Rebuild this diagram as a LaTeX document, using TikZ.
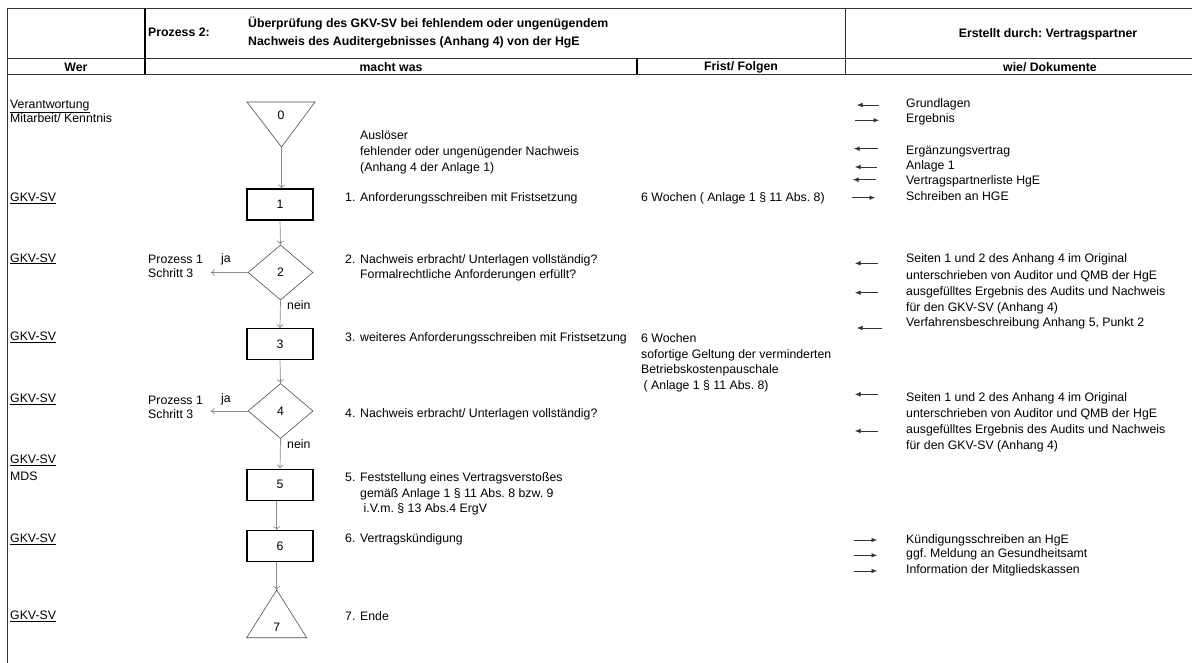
\documentclass[tikz,border=0pt]{standalone}
\usepackage{fontspec}
\setmainfont{Liberation Sans}
\usetikzlibrary{shapes.geometric,arrows.meta}
\frenchspacing

\begin{document}
\begin{tikzpicture}[x=1pt,y=-1pt,
        every node/.style={font=\fontsize{12.3pt}{15.6pt}\selectfont, inner sep=0pt},
        txt/.style={anchor=mid west},
        blk/.style={anchor=base west, align=left},
        hdr/.style={font=\fontsize{12.3pt}{18pt}\selectfont\bfseries},
        tabline/.style={draw=black!80, line width=0.8pt},
        tabbold/.style={draw=black, line width=2pt},
        shapeline/.style={draw=black!70, line width=0.6pt},
        stepbox/.style={draw, line width=1.1pt, minimum width=66pt, minimum height=31pt},
        decision/.style={diamond, draw=black!70, line width=0.6pt, minimum width=65pt, minimum height=55pt},
        flow/.style={-{To[length=4pt,width=7pt]}, draw=black!45, line width=0.7pt},
        doc/.style={-{Latex[length=5.5pt,width=4.5pt]}, draw=black!80, line width=0.5pt}]
        \useasboundingbox (0,0) rectangle (1192,663);
        \draw[tabline] (7,8) -- (1192,8);
        \draw[tabline] (7,58) -- (1192,58);
        \draw[tabline] (7,74) -- (1192,74);
        \draw[tabline] (7,8) -- (7,663);
        \draw[tabbold] (145,8) -- (145,74);
        \draw[tabbold] (637,58) -- (637,74);
        \draw[tabline] (845,8) -- (845,74);
        \node[hdr, anchor=mid west] (proz) at (148,34) {Prozess 2:};
        \node[hdr, blk] (titel) at (248,45.4) {Überprüfung des GKV-SV bei fehlendem oder ungenügendem\\Nachweis des Auditergebnisses (Anhang 4) von der HgE};
        \node[hdr] (erst) at (1048,34) {Erstellt durch: Vertragspartner};
        \node[hdr] (hwer) at (76,67) {Wer};
        \node[hdr] (hwas) at (391,67) {macht was};
        \node[hdr] (hfrist) at (741,67) {Frist/ Folgen};
        \node[hdr] (hwie) at (1050,67) {wie/ Dokumente};

        \node[txt] (wer0) at (10,106) {\underline{Verantwortung}};
        \node[txt] (wer0b) at (10,120.3) {Mitarbeit/ Kenntnis};
        \node[txt] (wer1) at (10,198.7) {\underline{GKV-SV}};
        \node[txt] (wer2) at (10,259.5) {\underline{GKV-SV}};
        \node[txt] (wer3) at (10,338.3) {\underline{GKV-SV}};
        \node[txt] (wer4) at (10,400) {\underline{GKV-SV}};
        \node[txt] (wer5) at (10,461) {\underline{GKV-SV}};
        \node[txt] (wer5b) at (10,478.3) {MDS};
        \node[txt] (wer6) at (10,540.3) {\underline{GKV-SV}};
        \node[txt] (wer7) at (10,617) {\underline{GKV-SV}};

        \draw[shapeline] (247,102) -- (315,102) -- (281.5,147) coordinate (t0) -- cycle;
        \node (l0) at (281,115) {0};
        \node[stepbox] (b1) at (280,204.5) {1};
        \node[decision] (d2) at (280.5,272.5) {2};
        \node[stepbox] (b3) at (280,344.3) {3};
        \node[decision] (d4) at (280.5,411) {4};
        \node[stepbox] (b5) at (280,484.7) {5};
        \node[stepbox] (b6) at (280,546.2) {6};
        \draw[shapeline] (276.7,590) coordinate (t7) -- (306.7,637.7) -- (246.7,637.7) -- cycle;
        \node (l7) at (276.7,627) {7};
        \draw[flow] (t0) -- (t0 |- b1.north);
        \draw[flow] (b1.south) -- (d2.north);
        \draw[flow] (d2.south) -- (b3.north);
        \draw[flow] (b3.south) -- (d4.north);
        \draw[flow] (d4.south) -- (b5.north);
        \draw[flow] (b5.south -| t7) -- (b6.north -| t7);
        \draw[flow] (b6.south -| t7) -- (t7);
        \draw[flow] (d2.west) -- ++(-37,0) coordinate (p2);
        \draw[flow] (d4.west) -- ++(-37,0) coordinate (p4);
        \node[blk] (proz2) at (148,277.4) {Prozess 1\\[-1.5pt]Schritt 3};
        \node[blk] (proz4) at (148,418.4) {Prozess 1\\[-1.5pt]Schritt 3};
        \node[txt] (ja2) at (221,260) {ja};
        \node[txt] (ja4) at (221,400) {ja};
        \node[txt] (nein2) at (287,307) {nein};
        \node[txt] (nein4) at (287,446) {nein};

        \node[blk] (ausl) at (360,171.1) {Auslöser\\fehlender oder ungenügender Nachweis\\(Anhang 4 der Anlage 1)};
        \node[txt] (m1) at (345,198.5) {\makebox[15pt][l]{1.}Anforderungsschreiben mit Fristsetzung};
        \node[txt] (f1) at (641,198.5) {6 Wochen ( Anlage 1 § 11 Abs. 8)};
        \node[blk] (m2) at (345,278.7) {\makebox[15pt][l]{2.}Nachweis erbracht/ Unterlagen vollständig?\\\hspace*{15pt}Formalrechtliche Anforderungen erfüllt?};
        \node[txt] (m3) at (345,338.5) {\makebox[15pt][l]{3.}weiteres Anforderungsschreiben mit Fristsetzung};
        \node[blk] (f3) at (641,389.4) {6 Wochen\\sofortige Geltung der verminderten\\Betriebskostenpauschale\\\hspace*{2.5pt}( Anlage 1 § 11 Abs. 8)};
        \node[txt] (m4) at (345,415.3) {\makebox[15pt][l]{4.}Nachweis erbracht/ Unterlagen vollständig?};
        \node[blk] (m5) at (345,512.7) {\makebox[15pt][l]{5.}Feststellung eines Vertragsverstoßes\\\hspace*{15pt}gemäß Anlage 1 § 11 Abs. 8 bzw. 9\\\hspace*{18.5pt}i.V.m. § 13 Abs.4 ErgV};
        \node[txt] (m6) at (345,540.3) {\makebox[15pt][l]{6.}Vertragskündigung};
        \node[txt] (m7) at (345,617.7) {\makebox[15pt][l]{7.}Ende};

        \node[txt] (r1) at (906,105) {Grundlagen};
        \node[txt] (r2) at (906,120.3) {Ergebnis};
        \node[txt] (r3) at (906,151.7) {Ergänzungsvertrag};
        \node[txt] (r4) at (906,167) {Anlage 1};
        \node[txt] (r5) at (906,181.7) {Vertragspartnerliste HgE};
        \node[txt] (r6) at (906,197.7) {Schreiben an HGE};
        \draw[doc] ([xshift=-27pt]r1.mid west) -- ++(-22,0);
        \draw[doc] ([xshift=-51pt]r2.mid west) -- ++(24,0);
        \draw[doc] ([shift={(-28,-3)}]r3.mid west) -- ++(-24,0);
        \draw[doc] ([xshift=-29pt]r4.mid west) -- ++(-22,0);
        \draw[doc] ([shift={(-30,-2)}]r5.mid west) -- ++(-23,0);
        \draw[doc] ([xshift=-54pt]r6.mid west) -- ++(23,0);

        \node[txt] (a1) at (906,260.3) {Seiten 1 und 2 des Anhang 4 im Original};
        \node[txt] (a2) at (906,276.7) {unterschrieben von Auditor und QMB der HgE};
        \node[txt] (a3) at (906,292.7) {ausgefülltes Ergebnis des Audits und Nachweis};
        \node[txt] (a4) at (906,308.7) {für den GKV-SV (Anhang 4)};
        \node[txt] (a5) at (906,324) {Verfahrensbeschreibung Anhang 5, Punkt 2};
        \draw[doc] ([shift={(-28,3)}]a1.mid west) -- ++(-23,0);
        \draw[doc] ([xshift=-28pt]a3.mid west) -- ++(-23,0);
        \draw[doc] ([shift={(-24,4)}]a5.mid west) -- ++(-25,0);

        \node[txt] (c1) at (906,399.3) {Seiten 1 und 2 des Anhang 4 im Original};
        \node[txt] (c2) at (906,415) {unterschrieben von Auditor und QMB der HgE};
        \node[txt] (c3) at (906,431) {ausgefülltes Ergebnis des Audits und Nachweis};
        \node[txt] (c4) at (906,447) {für den GKV-SV (Anhang 4)};
        \draw[doc] ([shift={(-28,-5)}]c1.mid west) -- ++(-23,0);
        \draw[doc] ([xshift=-28pt]c3.mid west) -- ++(-23,0);

        \node[txt] (e1) at (906,541) {Kündigungsschreiben an HgE};
        \node[txt] (e2) at (906,555.3) {ggf. Meldung an Gesundheitsamt};
        \node[txt] (e3) at (906,571) {Information der Mitgliedskassen};
        \draw[doc] ([shift={(-52,-1)}]e1.mid west) -- ++(23,0);
        \draw[doc] ([xshift=-52pt]e2.mid west) -- ++(23,0);
        \draw[doc] ([xshift=-52pt]e3.mid west) -- ++(23,0);
      \end{tikzpicture}
\end{document}
